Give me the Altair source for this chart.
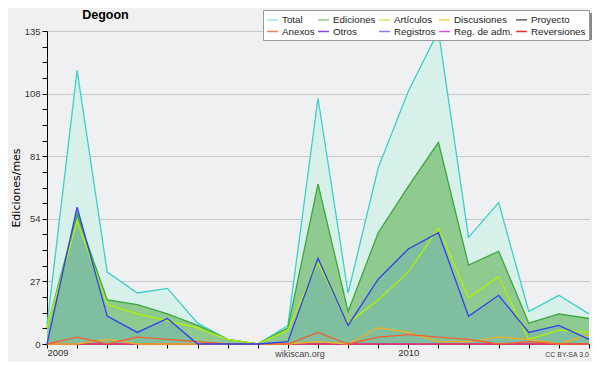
import altair as alt
import pandas as pd

# ---- data (monthly, Jan 2009 .. Jul 2010) ----
months = list(range(19))
tick_labels = ["2009", "", "", "", "", "", "", "", "", "", "", "",
               "2010", "", "", "", "", "", ""]

total       = [8, 118, 31, 22, 24, 9, 2, 0, 8, 106, 22, 76, 109, 135, 46, 61, 14, 21, 13]
ediciones   = [7, 56, 19, 17, 13, 8, 2, 0, 7, 69, 14, 48, 68, 87, 34, 40, 9, 13, 11]
registros   = [0, 59, 12, 5, 11, 0, 0, 0, 1, 37, 8, 28, 41, 48, 12, 21, 5, 8, 2]
articulos   = [7, 53, 17, 13, 10, 7, 2, 0, 6, 35, 9, 19, 31, 50, 20, 29, 2, 6, 5]
discusiones = [0, 0, 2, 0, 0, 0, 0, 0, 0, 1, 0, 7, 5, 1, 1, 3, 2, 0, 4]
anexos      = [0, 3, 0, 3, 2, 1, 0, 0, 0, 5, 0, 3, 4, 3, 2, 0, 1, 0, 0]
proyecto    = [0] * 19
otros       = [0] * 19
reg_adm     = [0] * 19
reversiones = [0] * 19

legend_names = ["Total", "Ediciones", "Artículos", "Discusiones", "Proyecto",
                "Anexos", "Otros", "Registros", "Reg. de adm.", "Reversiones"]
legend_colors = ["#a6e8e0", "#88d088", "#c8f060", "#f8d050", "#606060",
                 "#f08050", "#9040e8", "#8080f0", "#e050e8", "#f03030"]

line_names = ["Discusiones", "Anexos", "Artículos", "Registros", "Ediciones", "Total"]
line_colors = ["#f0b020", "#f06030", "#b4f000", "#3040f0", "#3aa83a", "#3cd0c8"]

series = {
    "Total": total, "Ediciones": ediciones, "Artículos": articulos,
    "Discusiones": discusiones, "Proyecto": proyecto, "Anexos": anexos,
    "Otros": otros, "Registros": registros, "Reg. de adm.": reg_adm,
    "Reversiones": reversiones,
}

rows = []
for name, vals in series.items():
    for i, v in zip(months, vals):
        rows.append({"idx": i, "serie": name, "value": v})
df = pd.DataFrame(rows)

label_expr = "[" + ",".join("'%s'" % t for t in tick_labels) + "][datum.value]"

x_enc = alt.X("idx:Q",
              scale=alt.Scale(domain=[0, 18], nice=False, zero=False),
              axis=alt.Axis(values=months, labelExpr=label_expr, title=None,
                            grid=False, tickSize=4, tickColor="black",
                            domainColor="black", labelColor="#333",
                            labelFont="Liberation Sans", labelFontSize=9.5,
                            labelPadding=-1, labelBaseline="top"))

y_enc = alt.Y("value:Q",
              scale=alt.Scale(domain=[0, 135], nice=False),
              axis=alt.Axis(values=[i * 6.75 for i in range(21)],
                            labelExpr="datum.value % 27 === 0 ? datum.value : ''",
                            gridOpacity={"condition": {"test": "datum.value % 27 === 0 && datum.value > 0", "value": 1}, "value": 0},
                            gridColor="#c8c8c8", grid=True,
                            tickSize=5, tickColor="black", domainColor="black",
                            labelColor="#333", labelFont="Liberation Sans",
                            labelFontSize=9.5, labelPadding=2,
                            title="Ediciones/mes", titleFont="DejaVu Sans",
                            titleFontSize=11, titleFontWeight="normal",
                            titleColor="black", titleX=-31, titleY=156.5,
                            titleBaseline="middle", titleAngle=270))

base = alt.Chart(df)

area_total = base.transform_filter("datum.serie === 'Total'").mark_area(
    color="#d7f0ea").encode(x=x_enc, y=y_enc)
area_ed = base.transform_filter("datum.serie === 'Ediciones'").mark_area(
    color="#8fca90").encode(x=x_enc, y=y_enc)
area_reg = base.transform_filter("datum.serie === 'Registros'").mark_area(
    color="#7fbe9e").encode(x=x_enc, y=y_enc)

shadow = alt.Chart(pd.DataFrame({"a": [0]})).mark_rect(color="#888888").encode(
    x=alt.value(219), x2=alt.value(545), y=alt.value(-18), y2=alt.value(9))

legend_layer = base.transform_filter(
    alt.FieldOneOfPredicate(field="serie", oneOf=["Proyecto", "Otros", "Reg. de adm.", "Reversiones"])
).mark_line(strokeWidth=1.2).encode(
    x=x_enc, y=y_enc,
    color=alt.Color("serie:N",
                    scale=alt.Scale(domain=legend_names, range=legend_colors),
                    legend=alt.Legend(orient="none", legendX=216, legendY=-21,
                                      columns=5, direction="horizontal",
                                      symbolType="stroke", symbolSize=121,
                                      symbolStrokeWidth=1.5, symbolOpacity=1,
                                      labelFont="Liberation Sans", labelFontSize=9.8,
                                      labelColor="#222", labelOffset=3,
                                      columnPadding=0, rowPadding=-2, padding=3,
                                      fillColor="white", strokeColor="#999999",
                                      title=None, labelLimit=120)))

lines = base.transform_filter(
    alt.FieldOneOfPredicate(field="serie", oneOf=line_names)
).mark_line(strokeWidth=1.3).encode(
    x=x_enc, y=y_enc,
    stroke=alt.Stroke("serie:N",
                      scale=alt.Scale(domain=line_names, range=line_colors),
                      legend=None),
    order=alt.Order("idx:Q"))

def txt(s, x, y, **kw):
    return alt.Chart(pd.DataFrame({"t": [s]})).mark_text(**kw).encode(
        x=alt.value(x), y=alt.value(y), text="t:N")

title = txt("Degoon", 58.5, -16.5, font="Liberation Sans", fontSize=12.5,
            fontWeight="bold", color="black", align="center", baseline="middle")
site = txt("wikiscan.org", 253, 326, font="Liberation Sans", fontSize=9,
           color="#444", align="center", baseline="alphabetic")
lic = txt("CC BY-SA 3.0", 542, 326, font="Liberation Sans", fontSize=7,
          color="#444", align="right", baseline="alphabetic")

chart = alt.layer(
    area_total, area_ed, area_reg, shadow, legend_layer, lines, title, site, lic
).properties(
    width=542, height=313,
    autosize=alt.AutoSizeParams(type="none"),
    padding={"left": 39, "top": 23, "right": 3, "bottom": 18},
    background="#f0f0f0",
).configure_view(fill="#eef0f2", stroke=None).configure_axis(zindex=1)

chart.save("out.html", embed_options={"renderer": "svg", "actions": False})
